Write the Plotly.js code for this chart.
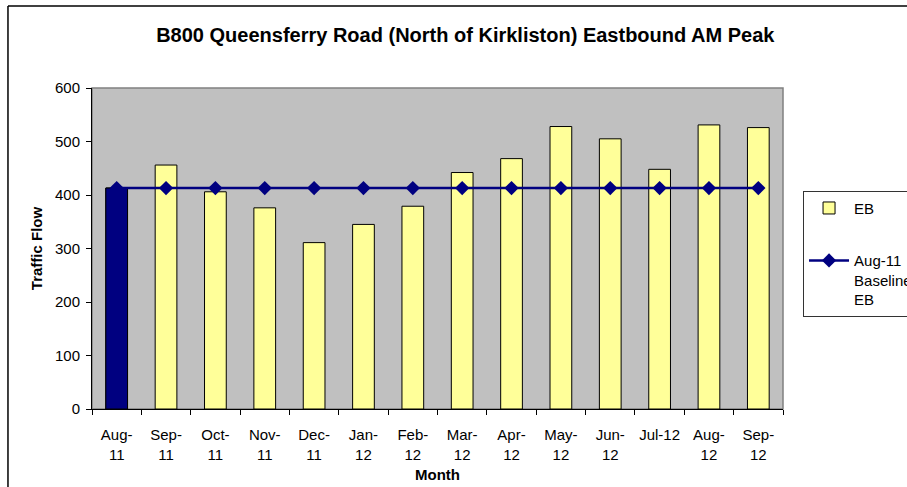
<!DOCTYPE html>
<html>
<head>
<meta charset="utf-8">
<script src="https://cdn.plot.ly/plotly-3.0.1.min.js"></script>
<style>html,body{margin:0;padding:0;background:#fff;}#chart{width:907px;height:487px;}</style>
</head>
<body>
<div id="chart"></div>
<script>
const months = ["Aug-11","Sep-11","Oct-11","Nov-11","Dec-11","Jan-12","Feb-12","Mar-12","Apr-12","May-12","Jun-12","Jul-12","Aug-12","Sep-12"];
const tickLabels = ["Aug-<br>11","Sep-<br>11","Oct-<br>11","Nov-<br>11","Dec-<br>11","Jan-<br>12","Feb-<br>12","Mar-<br>12","Apr-<br>12","May-<br>12","Jun-<br>12","Jul-12<br> ","Aug-<br>12","Sep-<br>12"];
const ebValues = [413, 456, 406, 376, 311, 345, 379, 442, 468, 528, 505, 448, 531, 526];
const baselineValues = [413, 413, 413, 413, 413, 413, 413, 413, 413, 413, 413, 413, 413, 413];
const baselineMonth = months[0];
const baselineBarValue = ebValues[0];

const font = "Liberation Sans, Arial, sans-serif";
const traces = [
  {
    type: "bar", x: months, y: ebValues, name: "EB", legendgroup: "a",
    width: 0.44,
    marker: {color: "#FFFF99", line: {color: "#000000", width: 1}},
    hoverinfo: "x+y"
  },
  {
    type: "bar", x: [baselineMonth], y: [baselineBarValue], name: "EB", showlegend: false,
    width: 0.44,
    marker: {color: "#000080", line: {color: "#000000", width: 1}},
    hoverinfo: "x+y"
  },
  {
    type: "scatter", mode: "lines+markers", x: months, y: baselineValues,
    name: "Aug-11<br>Baseline<br>EB", legendgroup: "b",
    line: {color: "#000080", width: 2.5},
    marker: {symbol: "diamond", size: 11, color: "#000080"}
  }
];

const layout = {
  width: 907, height: 487,
  margin: {l: 92, r: 124, t: 88, b: 78, autoexpand: false},
  paper_bgcolor: "#ffffff",
  plot_bgcolor: "#C0C0C0",
  font: {family: font, size: 15, color: "#000"},
  title: {text: "<b>B800 Queensferry Road (North of Kirkliston) Eastbound AM Peak</b>",
          font: {family: font, size: 20, color: "#000"},
          x: 0.513, xref: "container", xanchor: "center", y: 0.928, yref: "container", yanchor: "middle"},
  barmode: "overlay",
  bargap: 0,
  xaxis: {
    type: "category", tickvals: months, ticktext: tickLabels, range: [-0.5, 13.5],
    tickson: "boundaries", ticks: "outside", ticklen: 5, tickcolor: "#000",
    showline: true, linecolor: "#000", linewidth: 1, showgrid: false,
    tickfont: {family: font, size: 15}, tickangle: 0, ticklabelstandoff: 12,
    title: {text: "<b>Month</b>", font: {family: font, size: 15}, standoff: 7}
  },
  yaxis: {
    range: [0, 600], dtick: 100, ticks: "outside", ticklen: 5, tickcolor: "#000",
    showline: true, linecolor: "#000", linewidth: 1, showgrid: false, zeroline: false,
    tickfont: {family: font, size: 15}, ticklabelstandoff: 3,
    title: {text: "<b>Traffic Flow</b>", font: {family: font, size: 15}, standoff: 8}
  },
  legend: {
    x: 1.029, xanchor: "left", y: 0.68, yanchor: "top",
    bgcolor: "#fff", bordercolor: "#333", borderwidth: 1,
    font: {family: font, size: 15}, traceorder: "grouped", tracegroupgap: 30,
    valign: "top", itemwidth: 40
  },
  showlegend: true,
  shapes: [
    {type: "rect", xref: "paper", yref: "paper", x0: 0, x1: 1, y0: 0, y1: 1, line: {color: "#808080", width: 1.5}, layer: "below"},
    {type: "line", xref: "paper", yref: "paper", x0: -0.1216, x1: -0.1216, y0: -0.3, y1: 1.2555, line: {color: "#000", width: 1.5}},
    {type: "line", xref: "paper", yref: "paper", x0: -0.1216, x1: 1.3, y0: 1.2555, y1: 1.2555, line: {color: "#000", width: 1.5}}
  ]
};

Plotly.newPlot("chart", traces, layout, {displayModeBar: false, staticPlot: true});
</script>
</body>
</html>
